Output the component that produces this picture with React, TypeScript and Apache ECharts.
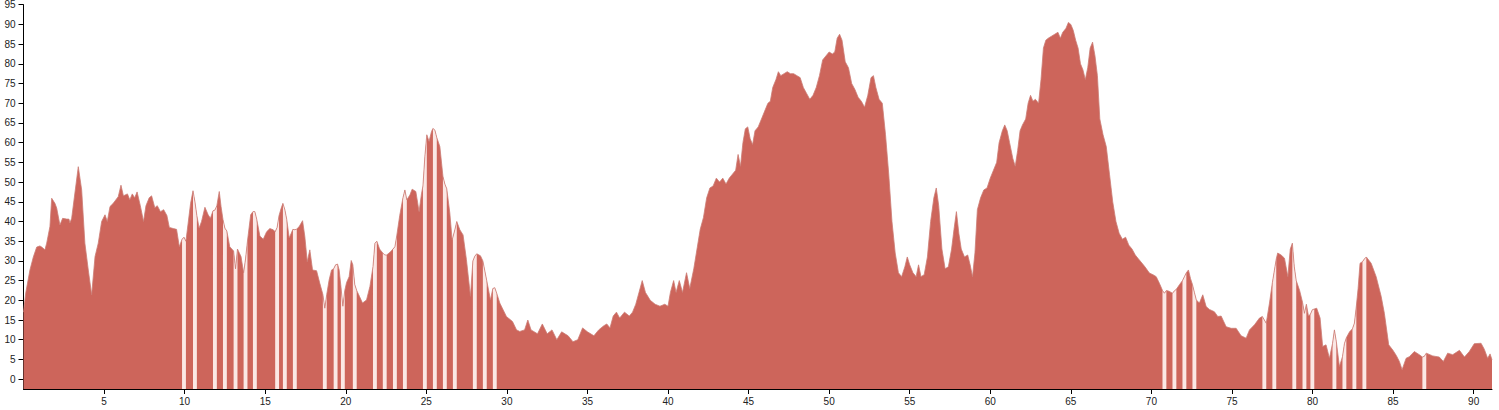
import { useEffect, useRef } from "react";
import * as echarts from "echarts";

// [distance, value] pairs
const profilePoints: [number, number][] = [
  [0, 17], [0.14, 21.9], [0.4, 27.7], [0.61, 31], [0.82, 33.5], [1.02, 33.8], [1.13, 33.5], [1.33, 32.8],
  [1.44, 34.5], [1.64, 38.7], [1.75, 45.9], [1.95, 44.6], [2.06, 43.4], [2.26, 39.1], [2.43, 40.8],
  [2.68, 40.6], [2.82, 40.6], [2.88, 39.6], [2.99, 40.8], [3.19, 47.2], [3.4, 53.9], [3.61, 48],
  [3.81, 34.5], [4.02, 27.7], [4.23, 21.4], [4.44, 31.1], [4.64, 34.5], [4.85, 40], [5.06, 41.7],
  [5.2, 40], [5.37, 43.8], [5.57, 44.6], [5.88, 46.3], [6.05, 49.2], [6.2, 46.5], [6.45, 47],
  [6.6, 45.5], [6.75, 47], [6.9, 46], [7.05, 47.5], [7.25, 44], [7.45, 40], [7.6, 44], [7.8, 46],
  [7.95, 46.5], [8.15, 43.5], [8.3, 44], [8.5, 42.5], [8.7, 43], [8.9, 41.5], [9.05, 38.5], [9.3, 38.2],
  [9.5, 38], [9.67, 33.6],
  [9.84, 35.5], [9.96, 36], [10.08, 35],
  [10.22, 39.6], [10.37, 44.6],
  [10.52, 47.8], [10.64, 45], [10.76, 41.5],
  [10.9, 38.3], [11.05, 40], [11.26, 43.6], [11.46, 41.7], [11.6, 40.8],
  [11.76, 42.7], [11.88, 42.9], [12.0, 44],
  [12.15, 47.6], [12.26, 43.8],
  [12.38, 40.5], [12.5, 38.3], [12.62, 37.6],
  [12.8, 33.6],
  [13.04, 32.5], [13.16, 28], [13.28, 33],
  [13.5, 31.1],
  [13.66, 27], [13.78, 30.5], [13.9, 35],
  [14.1, 41.7],
  [14.24, 42.5], [14.36, 42.5], [14.48, 40.5],
  [14.67, 36.3], [14.88, 35.5], [15.09, 37.4], [15.29, 38.2], [15.5, 37.9],
  [15.62, 37.4], [15.74, 38.5], [15.86, 41.5],
  [15.98, 43.2],
  [16.1, 44.6], [16.22, 43], [16.34, 40.5],
  [16.49, 35.8],
  [16.72, 38], [16.84, 37.9], [16.96, 38.1],
  [17.11, 38.7], [17.32, 40.2], [17.46, 36.2], [17.61, 29.8], [17.77, 32.8], [17.94, 27.7],
  [18.19, 27.5], [18.39, 24.3],
  [18.58, 21.5], [18.7, 18], [18.82, 21.5],
  [18.97, 25.2], [19.12, 27.7],
  [19.25, 28], [19.37, 29], [19.49, 29.2],
  [19.59, 27.7],
  [19.7, 23.5], [19.82, 18.5], [19.94, 22.5],
  [20.05, 24.5], [20.21, 26], [20.34, 30.1],
  [20.44, 29], [20.56, 24], [20.68, 22.5],
  [20.85, 21], [21.04, 19.3], [21.29, 20.1], [21.5, 23.5],
  [21.69, 28.5], [21.81, 34.5], [21.93, 35],
  [22.1, 33],
  [22.3, 32], [22.42, 31.5], [22.54, 31.5],
  [22.75, 32.2],
  [22.93, 33], [23.05, 33.6], [23.17, 36.5],
  [23.35, 41.5],
  [23.55, 46], [23.67, 48], [23.79, 45.5],
  [23.98, 46.7], [24.12, 48.2], [24.35, 47.6], [24.55, 42.5], [24.7, 47],
  [24.79, 49], [24.91, 56.5], [25.03, 62],
  [25.17, 60.3], [25.32, 62.8],
  [25.41, 63.6], [25.53, 63.2], [25.65, 61.3],
  [25.84, 59],
  [26.03, 51.5], [26.15, 49.5], [26.27, 48.3],
  [26.46, 42.1], [26.6, 35.3],
  [26.65, 36], [26.77, 37.9], [26.89, 40],
  [27.08, 37.9], [27.28, 36.6], [27.49, 30.3], [27.74, 21],
  [27.89, 30], [28.01, 31.2], [28.13, 31.8],
  [28.36, 31.3],
  [28.51, 30], [28.63, 27.5], [28.75, 25],
  [28.98, 20.1],
  [29.13, 23], [29.25, 23.2], [29.37, 21.8],
  [29.56, 19.3], [29.97, 15.9], [30.35, 14.6], [30.6, 12.5], [30.8, 12.1],
  [31.1, 12.5], [31.3, 15], [31.5, 12.5], [31.9, 11.5], [32.2, 14], [32.5, 11.5], [32.8, 12.5],
  [33.1, 10], [33.4, 12], [33.8, 11], [34.1, 9.5], [34.4, 10], [34.7, 13], [35.0, 12], [35.4, 11],
  [35.7, 12.5], [36.0, 13.5], [36.2, 14], [36.4, 13], [36.6, 16], [36.8, 17], [37.0, 15.5],
  [37.3, 17], [37.6, 16], [37.8, 17], [38.0, 19], [38.2, 22], [38.4, 25], [38.6, 22], [38.9, 20],
  [39.2, 19], [39.5, 18.5], [39.8, 19], [40.0, 18.5], [40.15, 22], [40.35, 25], [40.5, 22],
  [40.7, 25], [40.9, 22], [41.15, 27], [41.35, 23], [41.6, 28], [41.8, 33], [42.0, 38], [42.2, 41],
  [42.4, 46], [42.6, 48.5], [42.8, 49], [43.0, 51], [43.2, 50], [43.4, 51], [43.6, 49.5], [43.8, 51],
  [44.0, 52], [44.2, 53], [44.35, 57], [44.5, 54], [44.65, 60], [44.8, 63.5], [44.95, 64], [45.1, 61],
  [45.25, 59.5], [45.4, 63], [45.6, 64], [45.8, 66], [46.0, 68], [46.2, 70], [46.35, 70.5], [46.5, 74],
  [46.7, 76], [46.85, 78], [47.0, 77], [47.2, 77.5], [47.4, 78], [47.6, 77.5], [47.8, 77.5], [48.0, 77],
  [48.2, 76.5], [48.4, 74], [48.6, 72.5], [48.8, 71], [49.0, 72], [49.2, 74], [49.4, 77], [49.6, 81],
  [49.8, 82], [50.0, 83], [50.2, 82.5], [50.35, 83], [50.5, 86.5], [50.65, 87.5], [50.8, 86], [51.0, 80.5],
  [51.2, 79], [51.4, 75], [51.6, 73.5], [51.8, 71.5], [52.0, 70.5], [52.2, 69], [52.4, 72], [52.6, 76.5],
  [52.75, 77], [52.9, 74], [53.1, 71], [53.3, 70], [53.5, 62], [53.7, 52], [53.9, 40], [54.1, 32],
  [54.3, 27], [54.5, 26], [54.7, 28.5], [54.85, 31], [55.0, 29], [55.2, 27], [55.4, 26], [55.55, 29],
  [55.7, 26], [55.9, 26.5], [56.1, 31], [56.3, 40], [56.5, 46], [56.65, 48.5], [56.8, 44], [57.0, 33],
  [57.2, 28], [57.4, 28.5], [57.6, 33], [57.75, 38], [57.9, 42.5], [58.05, 37], [58.2, 33], [58.4, 31],
  [58.6, 31.5], [58.75, 29], [58.9, 26], [59.05, 32], [59.2, 43], [59.4, 46], [59.6, 48], [59.8, 48.5],
  [60.0, 51], [60.2, 53], [60.4, 55], [60.55, 60], [60.75, 63], [60.9, 64.5], [61.05, 63], [61.2, 60],
  [61.4, 56], [61.55, 54], [61.7, 58], [61.85, 63], [62.0, 64.5], [62.2, 66], [62.35, 70], [62.5, 72],
  [62.65, 70.5], [62.8, 71], [63.0, 70], [63.15, 76], [63.3, 84], [63.45, 86], [63.6, 86.5], [63.8, 87],
  [64.0, 87.5], [64.2, 88], [64.35, 86.5], [64.5, 88], [64.7, 89], [64.85, 90.5], [65.0, 90], [65.15, 88.5],
  [65.3, 86], [65.45, 84], [65.6, 80], [65.75, 78.5], [65.9, 76], [66.05, 79], [66.2, 84], [66.35, 85.5],
  [66.5, 82], [66.65, 77], [66.8, 66], [67.0, 62], [67.2, 59], [67.4, 52], [67.6, 45], [67.8, 40],
  [68.0, 37], [68.2, 35.5], [68.4, 36], [68.6, 34], [68.8, 33], [69.0, 31.5], [69.2, 30.5], [69.4, 29.5],
  [69.6, 28.5], [69.88, 26.9], [70.1, 26.5], [70.3, 26], [70.5, 24.3],
  [70.69, 22.5], [70.81, 21.8], [70.93, 22.5],
  [71.1, 22.3],
  [71.31, 21.8], [71.43, 22.4], [71.55, 22.8],
  [71.75, 24],
  [71.93, 25], [72.05, 26], [72.17, 27],
  [72.3, 27.7], [72.43, 25.5],
  [72.55, 24], [72.67, 22], [72.79, 20.1],
  [72.98, 19.3], [73.19, 21.4], [73.4, 18.4], [73.6, 17.7], [73.91, 17.1], [74.12, 15.9], [74.33, 16],
  [74.64, 13.3], [74.95, 12.9], [75.26, 12.9], [75.57, 11], [75.88, 10.4], [76.09, 12.5], [76.4, 13.8],
  [76.71, 15.5],
  [76.89, 15.9], [77.01, 15], [77.13, 14.2],
  [77.33, 19.3],
  [77.51, 24.5], [77.63, 27.5], [77.75, 30.5],
  [77.84, 32], [78.05, 31.5], [78.26, 30.7], [78.47, 26], [78.62, 33],
  [78.75, 34.5], [78.87, 28.5], [78.99, 25],
  [79.2, 22.5],
  [79.38, 19.5], [79.5, 16.7], [79.62, 19],
  [79.75, 16],
  [79.87, 16.5], [79.99, 17.6], [80.11, 17.8],
  [80.26, 18], [80.47, 15.5], [80.63, 8.3], [80.84, 8.7], [81.05, 5.3],
  [81.24, 9], [81.36, 12.5], [81.48, 9.5],
  [81.67, 3.2],
  [81.86, 5.7], [81.98, 9], [82.1, 10.5],
  [82.3, 12],
  [82.48, 12.8], [82.6, 14.2], [82.72, 18.5],
  [82.83, 23], [82.95, 29.4],
  [83.1, 29.8], [83.22, 30.5], [83.34, 31],
  [83.64, 29.4], [83.95, 26], [84.26, 21], [84.46, 16.7], [84.73, 8.7], [84.98, 7.4], [85.2, 6],
  [85.39, 4.5], [85.56, 2.4], [85.81, 5.3], [86.01, 5.7], [86.32, 7], [86.63, 6.2],
  [86.82, 5.6], [86.94, 5.8], [87.06, 6.6],
  [87.46, 5.9], [87.87, 5.6], [88.12, 4.5], [88.39, 6.6], [88.7, 6.2], [89.12, 7.3], [89.43, 5.6],
  [89.73, 7], [90.04, 9], [90.46, 9.1], [90.66, 7.6], [90.87, 5.3], [91.02, 6.4], [91.14, 4.9],
];

// centres of the stretches where the filled area is missing
const gapCenters = [
  9.96, 10.64, 11.88, 12.5, 13.16, 13.78, 14.36, 15.74, 16.22, 16.84, 18.7, 19.37, 19.82, 20.56,
  21.81, 22.42, 23.05, 23.67, 24.91, 25.53, 26.15, 26.77, 28.01, 28.63, 29.25,
  70.81, 71.43, 72.05, 72.67, 77.01, 77.63, 78.87, 79.5, 79.99, 81.36, 81.98, 82.6, 83.22, 86.94,
];

const yTickValues = [0, 5, 10, 15, 20, 25, 30, 35, 40, 45, 50, 55, 60, 65, 70, 75, 80, 85, 90, 95];
const xTickValues = [5, 10, 15, 20, 25, 30, 35, 40, 45, 50, 55, 60, 65, 70, 75, 80, 85, 90];

const X_MIN = 0;
const X_MAX = 91.14;
const Y_MIN = -2.5;
const Y_MAX = 95;

export default function App() {
  const ref = useRef<HTMLDivElement>(null);

  useEffect(() => {
    if (!ref.current) return;
    const chart = echarts.init(ref.current, null, { renderer: "svg" });
    const inGap = (x: number) => gapCenters.some((g) => Math.abs(x - g) <= 0.125);
    const gapData = profilePoints.map(([x, y]) => (inGap(x) ? [x, y] : [x, null]));
    const font = "Liberation Sans, Arial, sans-serif";

    chart.setOption({
      animation: false,
      grid: {
        left: 23.5,
        right: 7,
        top: 4.7,
        bottom: 21,
        containLabel: false,
        outerBoundsMode: "none",
      },
      xAxis: {
        type: "value",
        min: X_MIN,
        max: X_MAX,
        axisLine: { show: true, onZero: false, lineStyle: { color: "#000", width: 1 } },
        axisTick: {
          show: true,
          length: 5,
          customValues: xTickValues,
          lineStyle: { color: "#000" },
        },
        axisLabel: {
          show: true,
          customValues: xTickValues,
          fontSize: 10,
          color: "#222",
          fontFamily: font,
          margin: 7,
        },
        splitLine: { show: false },
      },
      yAxis: {
        type: "value",
        min: Y_MIN,
        max: Y_MAX,
        axisLine: { show: true, onZero: false, lineStyle: { color: "#000", width: 1 } },
        axisTick: {
          show: true,
          length: 5,
          customValues: yTickValues,
          lineStyle: { color: "#000" },
        },
        axisLabel: {
          show: true,
          customValues: yTickValues,
          fontSize: 10,
          color: "#222",
          fontFamily: font,
          margin: 8,
        },
        splitLine: { show: false },
      },
      series: [
        {
          type: "line",
          data: profilePoints,
          showSymbol: false,
          symbol: "none",
          lineStyle: { width: 0 },
          areaStyle: { color: "#cd655b", opacity: 1, origin: "start" },
          silent: true,
        },
        {
          type: "line",
          data: gapData,
          showSymbol: false,
          symbol: "none",
          connectNulls: false,
          lineStyle: { width: 0 },
          areaStyle: { color: "#fbe8e5", opacity: 1, origin: "start" },
          silent: true,
        },
        {
          type: "line",
          data: profilePoints,
          showSymbol: false,
          symbol: "none",
          lineStyle: { width: 0.8, color: "#cc7c75" },
          silent: true,
        },
      ],
    });

    return () => chart.dispose();
  }, []);

  return (
    <div
      ref={ref}
      style={{ position: "absolute", left: 0, top: 0, width: 1499, height: 410 }}
    />
  );
}
